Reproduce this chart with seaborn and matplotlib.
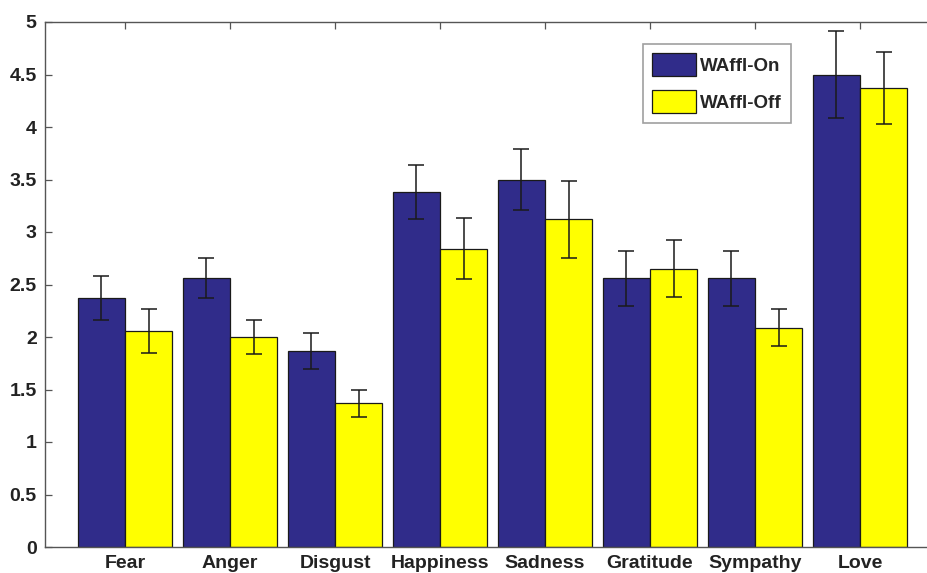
import matplotlib
matplotlib.use("Agg")
import matplotlib.pyplot as plt
import seaborn as sns
import pandas as pd
import numpy as np

categories = ["Fear", "Anger", "Disgust", "Happiness", "Sadness", "Gratitude", "Sympathy", "Love"]
series = ["WAffl-On", "WAffl-Off"]
on_values = [2.37, 2.56, 1.87, 3.38, 3.50, 2.56, 2.56, 4.50]
off_values = [2.06, 2.00, 1.37, 2.84, 3.12, 2.65, 2.09, 4.37]
on_err = [0.21, 0.19, 0.17, 0.26, 0.29, 0.26, 0.26, 0.41]
off_err = [0.21, 0.16, 0.13, 0.29, 0.37, 0.27, 0.18, 0.34]
y_ticks = [0, 0.5, 1, 1.5, 2, 2.5, 3, 3.5, 4, 4.5, 5]
y_tick_labels = ["0", "0.5", "1", "1.5", "2", "2.5", "3", "3.5", "4", "4.5", "5"]

df = pd.DataFrame({
    "category": categories * 2,
    "series": [series[0]] * len(categories) + [series[1]] * len(categories),
    "value": on_values + off_values,
    "err": on_err + off_err,
})

sns.set_style("white")
plt.rcParams["font.family"] = ["Liberation Sans", "DejaVu Sans"]
plt.rcParams["font.weight"] = "bold"

fig = plt.figure(figsize=(9.27, 5.73), dpi=100)
ax = fig.add_axes([45 / 927, 26 / 573, 895 / 927, 525 / 573])

palette = {"WAffl-On": "#302C8A", "WAffl-Off": "#FFFF00"}
sns.barplot(data=df, x="category", y="value", hue="series", order=categories,
            hue_order=series, palette=palette, width=0.9, errorbar=None,
            edgecolor="#1a1a1a", linewidth=0.9, saturation=1, ax=ax)

# error bars at bar centers
bars = [p for p in ax.patches if p.get_height() > 0]
errs = on_err + off_err
for p, e in zip(bars, errs):
    xc = p.get_x() + p.get_width() / 2
    ax.errorbar(xc, p.get_height(), yerr=e, fmt="none", ecolor="#1a1a1a",
                elinewidth=1.1, capsize=6, capthick=1.1, zorder=5)

ax.set_xlim(-0.762, 7.762)
ax.set_ylim(0, 5)
ax.set_yticks(y_ticks)
ax.set_yticklabels(y_tick_labels)
ax.set_xlabel("")
ax.set_ylabel("")
for s in ax.spines.values():
    s.set_color("#555555")
    s.set_linewidth(1.0)
ax.tick_params(axis="both", direction="in", length=5, width=0.9, color="#555555",
               labelsize=14, top=True, right=True, bottom=True, left=True)
ax.tick_params(axis="x", pad=6, labelsize=14)
ax.tick_params(axis="y", pad=6)
for lab in ax.get_xticklabels() + ax.get_yticklabels():
    lab.set_fontweight("bold")
    lab.set_color("#222222")

leg = ax.legend(loc="upper left", bbox_to_anchor=(643 / 927, 1 - 44 / 573),
                bbox_transform=fig.transFigure, borderaxespad=0, frameon=True, fancybox=False,
                prop={"weight": "bold", "size": 13.5}, handlelength=2.3,
                handleheight=1.5, handletextpad=0.25, borderpad=0.5, labelspacing=0.75)
leg.get_frame().set_edgecolor("#888888")
leg.get_frame().set_linewidth(1.2)

fig.savefig("out.png", dpi=100)
